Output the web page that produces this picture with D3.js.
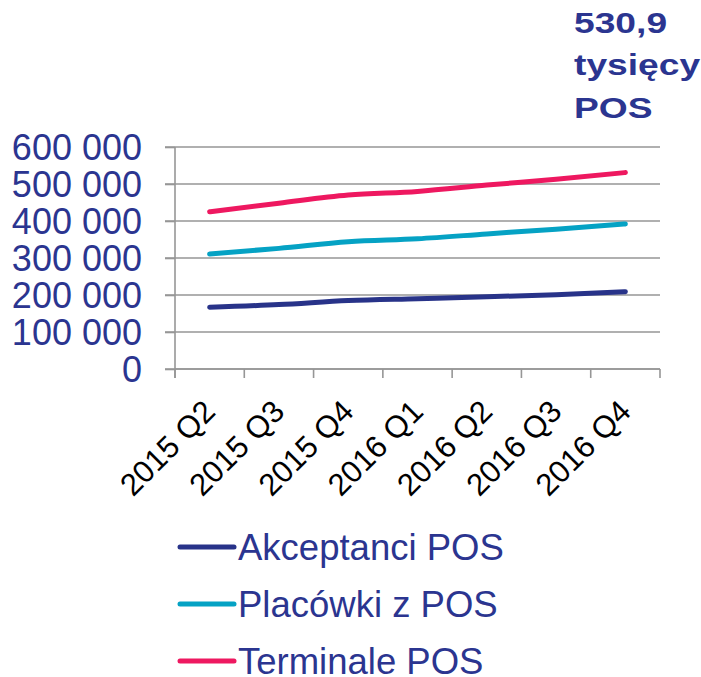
<!DOCTYPE html>
<html>
<head>
<meta charset="utf-8">
<script src="https://cdn.jsdelivr.net/npm/d3@7"></script>
<style>
  body { margin: 0; background: #fff; }
  text { font-family: "Liberation Sans", Arial, sans-serif; }
</style>
</head>
<body>
<div class="chart"></div>
<script>
var width = 701,
    height = 677;

// data
var quarters = ["2015 Q2", "2015 Q3", "2015 Q4", "2016 Q1", "2016 Q2", "2016 Q3", "2016 Q4"];
var akceptanci = [167000, 174000, 185000, 190000, 195000, 201000, 209000];
var placowki = [311000, 326000, 344000, 352000, 365000, 378000, 392000];
var terminale = [425000, 448000, 470000, 480000, 497000, 513000, 530900];
var seriesNames = ["Akceptanci POS", "Placówki z POS", "Terminale POS"];
var seriesColors = ["#283389", "#05a2c4", "#ee1860"];
var yTicks = [0, 100000, 200000, 300000, 400000, 500000, 600000];
var note = ["530,9", "tysięcy", "POS"];

var textColor = "#2b3590";
var plotLeft = 175, plotRight = 660, plotTop = 147, plotBottom = 369;

var svg = d3.select(".chart").append("svg")
    .attr("width", width)
    .attr("height", height);

var x = d3.scaleBand()
    .domain(quarters)
    .range([plotLeft, plotRight]);

var y = d3.scaleLinear()
    .domain([0, 600000])
    .range([plotBottom, plotTop]);

// gridlines
svg.append("g")
    .selectAll("line")
    .data(yTicks)
    .enter()
    .append("line")
    .attr("x1", plotLeft - 10)
    .attr("x2", plotRight)
    .attr("y1", function (d) { return y(d); })
    .attr("y2", function (d) { return y(d); })
    .attr("stroke", "#969696")
    .attr("stroke-width", 1.6);

// y axis
var yAxis = svg.append("g")
    .attr("transform", "translate(" + plotLeft + ",0)")
    .call(d3.axisLeft(y)
        .tickValues(yTicks)
        .tickSize(10)
        .tickPadding(23)
        .tickFormat(function (d) {
            return d3.format(",")(d).replace(/,/g, " ");
        }));
yAxis.select(".domain").attr("stroke", "#969696").attr("stroke-width", 1.6)
    .attr("d", "M0," + plotTop + "V" + (plotBottom + 9));
yAxis.selectAll(".tick line").attr("stroke", "#969696").attr("stroke-width", 1.6);
yAxis.selectAll(".tick text")
    .attr("fill", textColor)
    .style("font-size", "36px")
    .attr("dy", "0.35em");

// x axis
var xAxis = svg.append("g")
    .attr("transform", "translate(0," + plotBottom + ")")
    .call(d3.axisBottom(x).tickSize(0).tickFormat(""));
xAxis.select(".domain").attr("stroke", "#969696").attr("stroke-width", 1.6)
    .attr("d", "M" + plotLeft + ",0H" + plotRight);

var bounds = quarters.map(function (q) { return x(q); }).concat([plotRight]);
xAxis.selectAll(".bound")
    .data(bounds)
    .enter()
    .append("line")
    .attr("x1", function (d) { return d; })
    .attr("x2", function (d) { return d; })
    .attr("y1", 0)
    .attr("y2", 9)
    .attr("stroke", "#969696")
    .attr("stroke-width", 1.6);

svg.append("g")
    .selectAll("text")
    .data(quarters)
    .enter()
    .append("text")
    .attr("transform", function (d) {
        return "translate(" + (x(d) + x.bandwidth() / 2 - 8) + "," + (plotBottom + 29) + ") rotate(-45)";
    })
    .attr("text-anchor", "end")
    .attr("dy", "0.7em")
    .attr("fill", "#000")
    .style("font-size", "31px")
    .text(function (d) { return d; });

// lines
var allSeries = [akceptanci, placowki, terminale];
var line = d3.line()
    .x(function (d, i) { return x(quarters[i]) + x.bandwidth() / 2; })
    .y(function (d) { return y(d); })
    .curve(d3.curveMonotoneX);

svg.append("g")
    .selectAll("path")
    .data(allSeries)
    .enter()
    .append("path")
    .attr("d", line)
    .attr("fill", "none")
    .attr("stroke", function (d, i) { return seriesColors[i]; })
    .attr("stroke-width", 5)
    .attr("stroke-linecap", "round")
    .attr("stroke-linejoin", "round");

// legend
var legend = svg.append("g")
    .selectAll("g")
    .data(seriesNames)
    .enter()
    .append("g")
    .attr("transform", function (d, i) { return "translate(180," + (547 + i * 57) + ")"; });
legend.append("line")
    .attr("x1", 0)
    .attr("x2", 54)
    .attr("stroke", function (d, i) { return seriesColors[i]; })
    .attr("stroke-width", 5)
    .attr("stroke-linecap", "round");
legend.append("text")
    .attr("x", 58)
    .attr("dy", "0.36em")
    .attr("fill", textColor)
    .style("font-size", "36.5px")
    .text(function (d) { return d; });

// annotation
svg.append("g")
    .attr("transform", "translate(574,0) scale(1.24,1)")
    .selectAll("text")
    .data(note)
    .enter()
    .append("text")
    .attr("x", 0)
    .attr("y", function (d, i) { return 33 + i * 42.5; })
    .attr("fill", textColor)
    .style("font-size", "30px")
    .style("font-weight", "bold")
    .text(function (d) { return d; });
</script>
</body>
</html>
